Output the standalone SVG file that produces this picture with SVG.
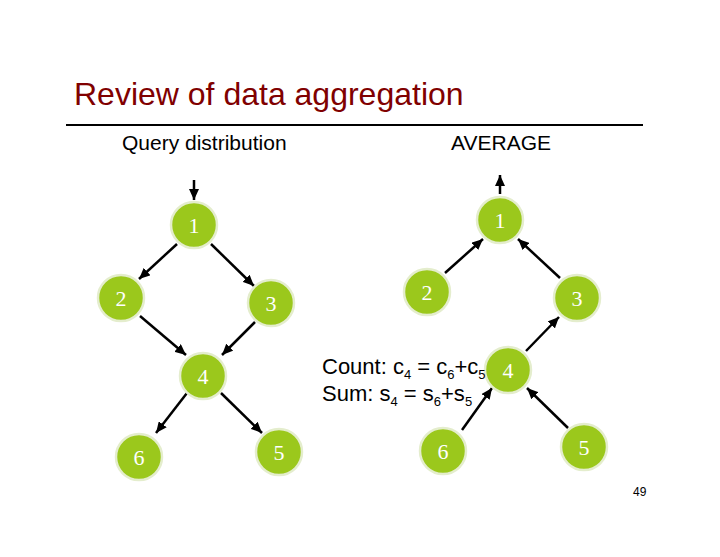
<svg xmlns="http://www.w3.org/2000/svg" width="720" height="557" viewBox="0 0 720 557">
<style>
.title{font-family:"Liberation Sans",Arial,sans-serif;font-size:32px;fill:#800000}
.lbl{font-family:"Liberation Sans",Arial,sans-serif;font-size:21px;fill:#000}
.eq{font-family:"Liberation Sans",Arial,sans-serif;font-size:22px;fill:#000}
.sub{font-size:13px}
.pg{font-family:"Liberation Sans",Arial,sans-serif;font-size:12px;fill:#000}
.node circle{fill:#9bc81c;stroke:#e4edcd;stroke-width:2.5}
.node text{font-family:"Liberation Serif","Times New Roman",serif;font-size:22px;fill:#fff;text-anchor:middle}
.edge{stroke:#000;stroke-width:2.5;fill:none;marker-end:url(#ah)}
</style>
<defs>
<marker id="ah" markerUnits="userSpaceOnUse" markerWidth="11" markerHeight="10" viewBox="0 0 11 10" refX="11" refY="5" orient="auto">
<path d="M0,0 L11,5 L0,10 z" fill="#000"/>
</marker>
</defs>
<rect width="720" height="557" fill="#fff"/>
<text class="title" x="74" y="105">Review of data aggregation</text>
<line x1="66" y1="125" x2="643" y2="125" stroke="#000" stroke-width="2"/>
<text class="lbl" x="122" y="150">Query distribution</text>
<text class="lbl" x="451" y="150">AVERAGE</text>

<g id="connectors">
<line class="edge" x1="194" y1="180" x2="194" y2="200"/>
<line class="edge" x1="177" y1="244" x2="139" y2="279"/>
<line class="edge" x1="211" y1="244" x2="254" y2="286"/>
<line class="edge" x1="140" y1="316" x2="186" y2="355"/>
<line class="edge" x1="255" y1="322" x2="222" y2="355"/>
<line class="edge" x1="187" y1="393" x2="156" y2="433"/>
<line class="edge" x1="221" y1="393" x2="262" y2="433"/>

<line class="edge" x1="500" y1="194" x2="500" y2="175"/>
<line class="edge" x1="445" y1="273" x2="483" y2="239"/>
<line class="edge" x1="560" y1="278" x2="518" y2="239"/>
<line class="edge" x1="526" y1="351" x2="559" y2="317"/>
<line class="edge" x1="462" y1="430" x2="492" y2="388"/>
<line class="edge" x1="568" y1="428" x2="527" y2="388"/>
</g>

<g id="L1" class="node"><circle cx="194" cy="225" r="23"/><text x="194" y="233">1</text></g>
<g id="L2" class="node"><circle cx="121" cy="298" r="23"/><text x="121" y="306">2</text></g>
<g id="L3" class="node"><circle cx="271" cy="303" r="23"/><text x="271" y="311">3</text></g>
<g id="L4" class="node"><circle cx="203" cy="376" r="23"/><text x="203" y="384">4</text></g>
<g id="L6" class="node"><circle cx="139" cy="457" r="23"/><text x="139" y="465">6</text></g>
<g id="L5" class="node"><circle cx="279" cy="452" r="23"/><text x="279" y="460">5</text></g>

<g id="R1" class="node"><circle cx="500" cy="220" r="23"/><text x="500" y="228">1</text></g>
<g id="R2" class="node"><circle cx="427" cy="292" r="23"/><text x="427" y="300">2</text></g>
<g id="R3" class="node"><circle cx="577" cy="298" r="23"/><text x="577" y="306">3</text></g>
<g id="R4" class="node"><circle cx="508" cy="370" r="23"/><text x="508" y="378">4</text></g>
<g id="R6" class="node"><circle cx="443" cy="451" r="23"/><text x="443" y="459">6</text></g>
<g id="R5" class="node"><circle cx="584" cy="447" r="23"/><text x="584" y="455">5</text></g>

<text class="eq" x="322" y="374">Count: c<tspan class="sub" dy="5">4</tspan><tspan dy="-5"> = c</tspan><tspan class="sub" dy="5">6</tspan><tspan dy="-5">+c</tspan><tspan class="sub" dy="5">5</tspan></text>
<text class="eq" x="322" y="401">Sum: s<tspan class="sub" dy="5">4</tspan><tspan dy="-5"> = s</tspan><tspan class="sub" dy="5">6</tspan><tspan dy="-5">+s</tspan><tspan class="sub" dy="5">5</tspan></text>

<text class="pg" x="633" y="496">49</text>
</svg>
